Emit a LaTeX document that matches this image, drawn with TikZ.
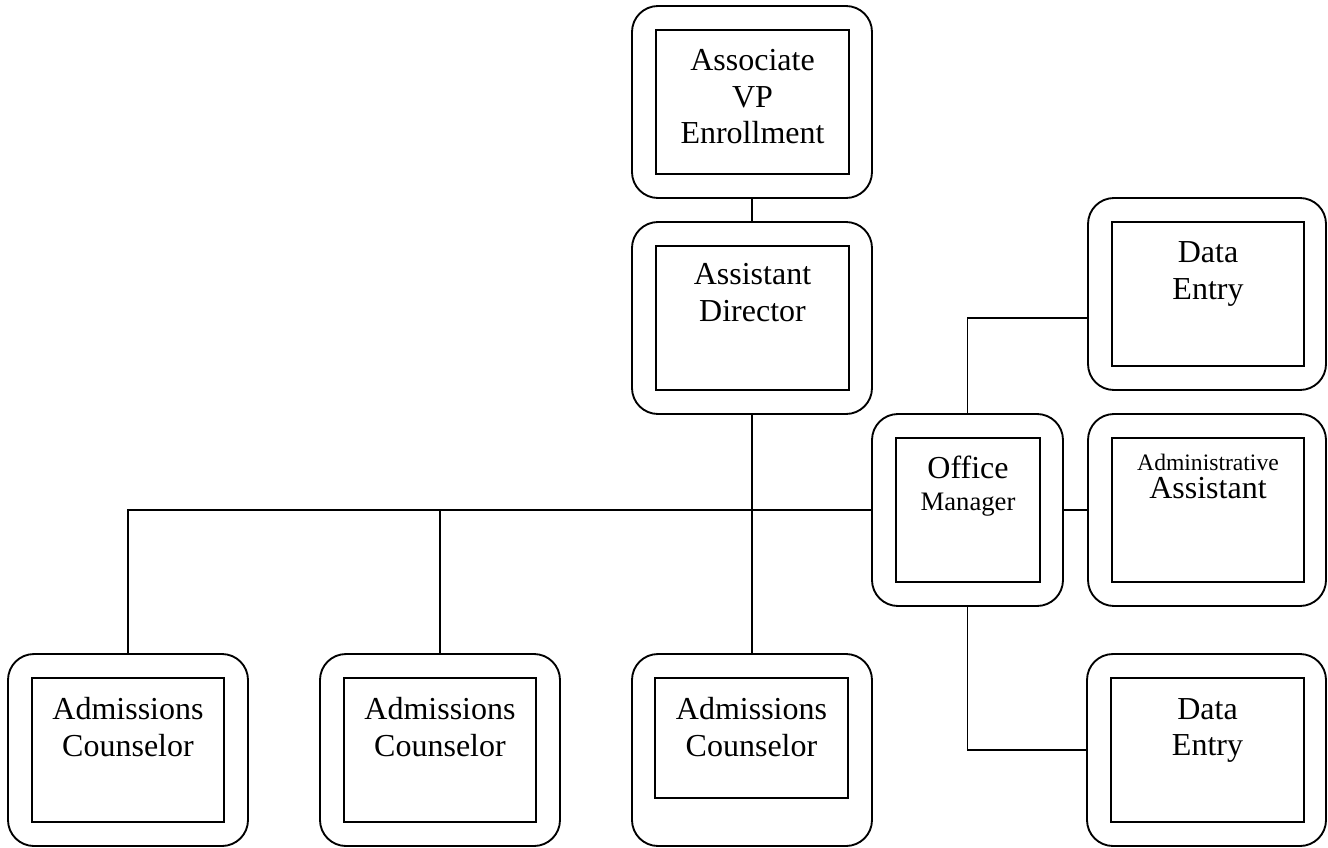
\documentclass[tikz,border=0pt]{standalone}
\usepackage{fontspec}
\setmainfont{Liberation Serif}
\usetikzlibrary{calc}
\begin{document}
\begin{tikzpicture}[x=0.75pt,y=-0.75pt,
  outerbox/.style 2 args={draw, line width=1.4pt, rounded corners=19.5pt, inner sep=0pt,
     minimum width=#1*0.75pt, minimum height=#2*0.75pt},
  innerbox/.style 2 args={draw, line width=1.4pt, inner sep=0pt,
     minimum width=#1*0.75pt, minimum height=#2*0.75pt},
  lbl/.style={align=center, inner sep=0pt, anchor=north, font=\fontsize{24}{27.5}\selectfont},
  conn/.style={line width=1.4pt}]
\useasboundingbox (0,0) rectangle (1328,847);

% Associate VP Enrollment
\node[outerbox={240}{192}] (avp) at (752,102) {};
\node[innerbox={193}{144}] (avpI) at (752.5,102) {};
\node[lbl] (avpT) at (752.5,49) {Associate\\VP\\Enrollment};

% Assistant Director
\node[outerbox={240}{192}] (ad) at (752,318) {};
\node[innerbox={193}{144}] (adI) at (752.5,318) {};
\node[lbl] (adT) at (752.5,263) {Assistant\\Director};

% Data Entry (top)
\node[outerbox={238}{192}] (de1) at (1207,294) {};
\node[innerbox={192}{144}] (de1I) at (1208,294) {};
\node[lbl] (de1T) at (1208,241.5) {Data\\Entry};

% Office Manager
\node[outerbox={191}{192}] (om) at (967.5,510) {};
\node[innerbox={144}{144}] (omI) at (968,510) {};
\node[lbl, font=\fontsize{20}{24}\selectfont] (omT) at (968,456) {{\fontsize{24}{24}\selectfont Office}\\Manager};

% Administrative Assistant
\node[outerbox={238}{192}] (aa) at (1207,510) {};
\node[innerbox={192}{144}] (aaI) at (1208,510) {};
\node[lbl, font=\fontsize{17.7}{19.5}\selectfont] (aaT) at (1208,454) {Administrative\\[1.5pt]{\fontsize{24}{19.5}\selectfont Assistant}};

% Data Entry (bottom)
\node[outerbox={239}{192}] (de2) at (1206.5,750) {};
\node[innerbox={193}{144}] (de2I) at (1207.5,750) {};
\node[lbl] (de2T) at (1207.5,698) {Data\\Entry};

% Admissions Counselors
\node[outerbox={240}{192}] (ac1) at (128,750) {};
\node[innerbox={192}{144}] (ac1I) at (128,750) {};
\node[lbl] (ac1T) at (128,697.5) {Admissions\\Counselor};

\node[outerbox={240}{192}] (ac2) at (440,750) {};
\node[innerbox={192}{144}] (ac2I) at (440,750) {};
\node[lbl] (ac2T) at (440,697.5) {Admissions\\Counselor};

\node[outerbox={240}{192}] (ac3) at (752,750) {};
\node[innerbox={193}{120}] (ac3I) at (751.5,738) {};
\node[lbl] (ac3T) at (751.5,697.5) {Admissions\\Counselor};

% connectors
\draw[conn] (avp.south) -- (ad.north);
\draw[conn] (ad.south) -- (ac3.north);
\draw[conn] (om.west) -| (ac1.north);
\draw[conn] (ac2.north) -- (ac2.north |- om.west);
\draw[conn] (om.east) -- (aa.west);
\draw[conn] (om.north) |- ($(de1.west)+(0,24)$);
\draw[conn] (om.south) |- (de2.west);
\end{tikzpicture}
\end{document}
